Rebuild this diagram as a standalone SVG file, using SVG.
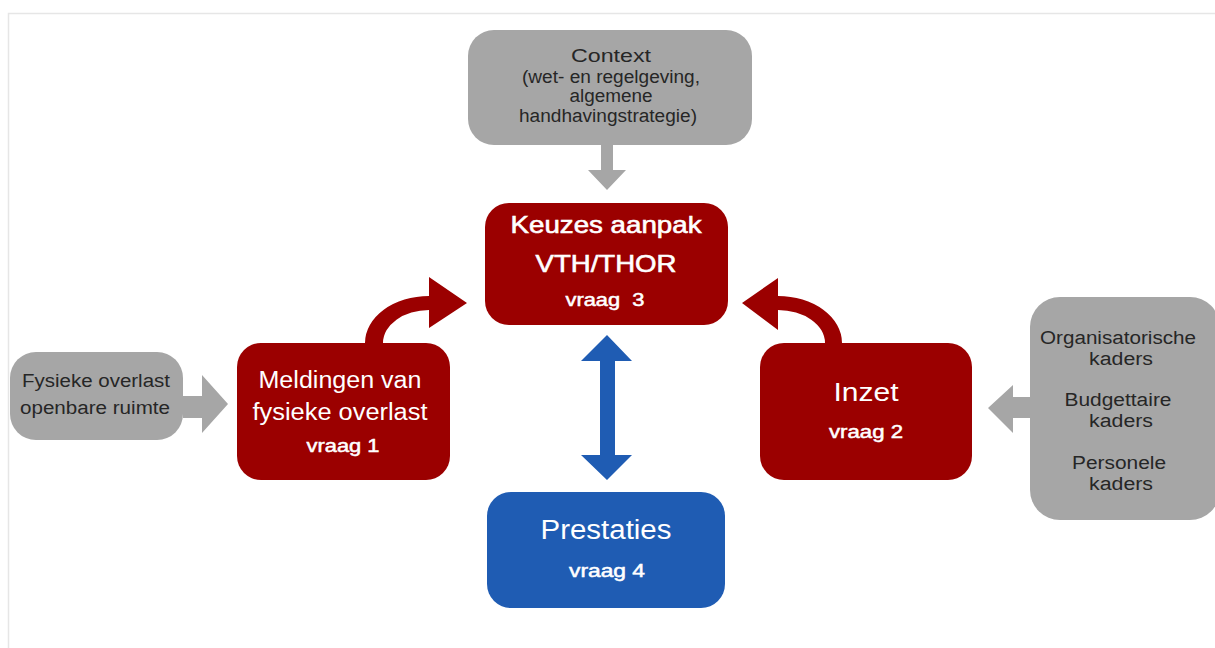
<svg xmlns="http://www.w3.org/2000/svg" width="1215" height="648" viewBox="0 0 1215 648">
  <style>
    .grey { fill: #a6a6a6; }
    .red { fill: #9b0000; }
    .blue { fill: #1f5cb3; }
    text { font-family: "Liberation Sans", Arial, sans-serif; text-anchor: middle; }
    .gt { fill: #262626; font-size: 18px; }
    .wt { fill: #ffffff; }
    .q { font-size: 18px; stroke: #ffffff; stroke-width: 0.5px; }
  </style>
  <rect x="0" y="0" width="1215" height="648" fill="#ffffff"/>
  <!-- frame -->
  <path d="M8.5 648 V13.5 H1215" fill="none" stroke="#e6e6e6" stroke-width="1.5"/>

  <g id="connectors">
    <!-- context down -->
    <path class="grey" d="M601 145 H613 V170 H626 L607 190 L588 170 H601 Z"/>
    <!-- fysieke overlast -> meldingen -->
    <path class="grey" d="M183 396 H202 V375 L228 404 L202 433 V418 H183 Z"/>
    <!-- kaders -> inzet -->
    <path class="grey" d="M1030 397 H1013 V385 L988 408 L1013 433 V418 H1030 Z"/>
    <!-- meldingen -> keuzes (curved) -->
    <path class="red" d="M365 343 A64 47 0 0 1 429 296 V277 L467 303 L429 328 V310 A46 33 0 0 0 383 343 Z"/>
    <!-- inzet -> keuzes (curved) -->
    <path class="red" d="M842 343 A64 47 0 0 0 778 296 V278 L742 303 L778 330 V310 A47 33 0 0 1 825 343 Z"/>
    <!-- keuzes <-> prestaties -->
    <path class="blue" d="M607 335 L632 361 H615 V455 H632 L607 480 L581 455 H600 V361 H581 Z"/>
  </g>

  <g id="context">
    <rect class="grey" x="468" y="30" width="284" height="115" rx="26"/>
    <text class="gt" x="611" y="62" font-size="22" textLength="80" lengthAdjust="spacingAndGlyphs">Context</text>
    <text class="gt" x="611" y="83" font-size="17" textLength="178" lengthAdjust="spacingAndGlyphs">(wet- en regelgeving,</text>
    <text class="gt" x="611" y="102" font-size="17" textLength="83" lengthAdjust="spacingAndGlyphs">algemene</text>
    <text class="gt" x="608" y="122" font-size="17" textLength="178" lengthAdjust="spacingAndGlyphs">handhavingstrategie)</text>
  </g>

  <g id="keuzes">
    <rect class="red" x="485" y="203" width="243" height="122" rx="24"/>
    <text class="wt" x="606" y="233" font-size="24" stroke="#ffffff" stroke-width="0.6" textLength="191" lengthAdjust="spacingAndGlyphs">Keuzes aanpak</text>
    <text class="wt" x="606" y="272" font-size="24" stroke="#ffffff" stroke-width="0.6" textLength="141" lengthAdjust="spacingAndGlyphs">VTH/THOR</text>
    <text class="wt q" x="605" y="306" textLength="79" lengthAdjust="spacingAndGlyphs" xml:space="preserve">vraag  3</text>
  </g>

  <g id="meldingen">
    <rect class="red" x="237" y="343" width="213" height="137" rx="24"/>
    <text class="wt" x="340" y="388" font-size="23" textLength="163" lengthAdjust="spacingAndGlyphs">Meldingen van</text>
    <text class="wt" x="340" y="420" font-size="23" textLength="175" lengthAdjust="spacingAndGlyphs">fysieke overlast</text>
    <text class="wt q" x="343" y="452" textLength="73" lengthAdjust="spacingAndGlyphs">vraag 1</text>
  </g>

  <g id="inzet">
    <rect class="red" x="760" y="343" width="212" height="137" rx="24"/>
    <text class="wt" x="866" y="401" font-size="26" textLength="65" lengthAdjust="spacingAndGlyphs">Inzet</text>
    <text class="wt q" x="866" y="438" textLength="74" lengthAdjust="spacingAndGlyphs">vraag 2</text>
  </g>

  <g id="prestaties">
    <rect class="blue" x="487" y="492" width="238" height="116" rx="24"/>
    <text class="wt" x="606" y="539" font-size="27" textLength="131" lengthAdjust="spacingAndGlyphs">Prestaties</text>
    <text class="wt q" x="607" y="577" textLength="76" lengthAdjust="spacingAndGlyphs">vraag 4</text>
  </g>

  <g id="fysieke-overlast">
    <rect class="grey" x="10" y="352" width="173" height="88" rx="26"/>
    <text class="gt" x="96" y="387" textLength="148" lengthAdjust="spacingAndGlyphs">Fysieke overlast</text>
    <text class="gt" x="95" y="414" textLength="150" lengthAdjust="spacingAndGlyphs">openbare ruimte</text>
  </g>

  <g id="kaders">
    <rect class="grey" x="1030" y="297" width="190" height="223" rx="30"/>
    <text class="gt" x="1118" y="344" textLength="156" lengthAdjust="spacingAndGlyphs">Organisatorische</text>
    <text class="gt" x="1121" y="365" textLength="64" lengthAdjust="spacingAndGlyphs">kaders</text>
    <text class="gt" x="1118" y="406" textLength="107" lengthAdjust="spacingAndGlyphs">Budgettaire</text>
    <text class="gt" x="1121" y="427" textLength="64" lengthAdjust="spacingAndGlyphs">kaders</text>
    <text class="gt" x="1119" y="469" textLength="94" lengthAdjust="spacingAndGlyphs">Personele</text>
    <text class="gt" x="1121" y="490" textLength="64" lengthAdjust="spacingAndGlyphs">kaders</text>
  </g>
</svg>
